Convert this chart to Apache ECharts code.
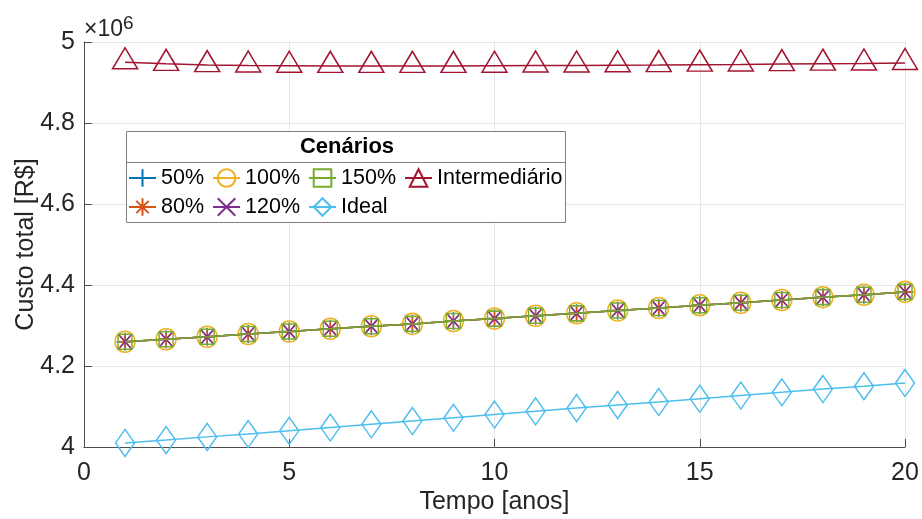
<!DOCTYPE html>
<html>
<head>
<meta charset="utf-8">
<script src="https://cdn.jsdelivr.net/npm/echarts@6/dist/echarts.min.js"></script>
<style>
html,body{margin:0;padding:0;background:#fff;}
#chart{width:922px;height:519px;}
</style>
</head>
<body>
<div id="chart"></div>
<script>
const anos = [1,2,3,4,5,6,7,8,9,10,11,12,13,14,15,16,17,18,19,20];
// Cenários 50%, 80%, 100%, 120%, 150% (curvas sobrepostas)
const custo50 = [4260000,4266000,4272000,4279000,4285000,4292000,4298000,4304000,4311000,4317000,4324000,4330000,4337000,4343000,4350000,4356000,4363000,4370000,4376000,4383000];
const custo80 = [4260000,4266000,4272000,4279000,4285000,4292000,4298000,4304000,4311000,4317000,4324000,4330000,4337000,4343000,4350000,4356000,4363000,4370000,4376000,4383000];
const custo100 = [4260000,4266000,4272000,4279000,4285000,4292000,4298000,4304000,4311000,4317000,4324000,4330000,4337000,4343000,4350000,4356000,4363000,4370000,4376000,4383000];
const custo120 = [4260000,4266000,4272000,4279000,4285000,4292000,4298000,4304000,4311000,4317000,4324000,4330000,4337000,4343000,4350000,4356000,4363000,4370000,4376000,4383000];
const custo150 = [4260000,4266000,4272000,4279000,4285000,4292000,4298000,4304000,4311000,4317000,4324000,4330000,4337000,4343000,4350000,4356000,4363000,4370000,4376000,4383000];
const custoIdeal = [4010000,4017000,4025000,4032000,4040000,4048000,4056000,4064000,4072000,4080000,4088000,4096000,4104000,4111000,4119000,4127000,4135000,4143000,4150000,4158000];
const custoIntermediario = [4950000,4946000,4943000,4942000,4941500,4941000,4941000,4941000,4941000,4941500,4942000,4942000,4942500,4943000,4944000,4944500,4945500,4946500,4947000,4948000];
const nomes = ['50%','80%','100%','120%','150%','Ideal','Intermediário'];
const xTicks = [0,5,10,15,20];
const yTicks = [4,4.2,4.4,4.6,4.8,5];

const axisFont = "'Liberation Sans',Arial,sans-serif";
const legFont = "'Liberation Sans',Arial,sans-serif";

const P = {
  plus: 'path://M0,5L10,5M5,0L5,10',
  star: 'path://M0,5L10,5M5,0L5,10M1.5,1.5L8.5,8.5M8.5,1.5L1.5,8.5',
  cross: 'path://M0,0L10,10M10,0L0,10'
};
const estilos = [
  {c:'#0072BD', s:P.plus, sz:[17,18], d:custo50},
  {c:'#D95319', s:P.star, sz:[15,16], d:custo80},
  {c:'#EDB120', s:'circle', sz:[20,21], d:custo100},
  {c:'#7E2F8E', s:P.cross, sz:[13,15], d:custo120},
  {c:'#77AC30', s:'rect', sz:[14,15], d:custo150},
  {c:'#4DBEEE', s:'diamond', sz:[19,27], d:custoIdeal},
  {c:'#A2142F', s:'triangle', sz:[25,21], d:custoIntermediario, off:[0,-4]}
];

const series = estilos.map((e,i)=>({
  name: nomes[i],
  type: 'line',
  data: anos.map((a,k)=>[a, e.d[k]]),
  color: e.c,
  symbol: e.s,
  symbolSize: e.sz,
  symbolOffset: e.off || [0,0],
  showAllSymbol: true,
  lineStyle: {color: e.c, width: 1.5},
  itemStyle: {color: 'rgba(0,0,0,0)', borderColor: e.c, borderWidth: 1.5},
  emphasis: {disabled: true},
  animation: false,
  z: 2 + i
}));

const legCommon = {
  orient: 'horizontal',
  padding: 0,
  itemWidth: 27,
  itemHeight: 22,
  itemGap: 8,
  selectedMode: false,
  z: 10,
  textStyle: {fontFamily: legFont, fontSize: 21.5, color: '#000', lineHeight: 22}
};

const chart = echarts.init(document.getElementById('chart'), null, {renderer: 'canvas'});
chart.setOption({
  backgroundColor: '#fff',
  animation: false,
  grid: {left: 84, right: 17, top: 42, bottom: 72, containLabel: false, outerBoundsMode: 'none'},
  xAxis: {
    type: 'value', min: xTicks[0], max: xTicks[xTicks.length-1], interval: 5,
    name: 'Tempo [anos]', nameLocation: 'middle', nameGap: 43, nameMoveOverlap: false,
    nameTextStyle: {fontFamily: axisFont, fontSize: 25, color: '#262626'},
    axisLine: {show: true, lineStyle: {color: '#4d4d4d', width: 1}},
    axisTick: {show: true, inside: true, length: 8, lineStyle: {color: '#4d4d4d'}},
    axisLabel: {fontFamily: axisFont, fontSize: 25, color: '#262626', margin: 14},
    splitLine: {show: true, lineStyle: {color: '#e6e6e6', width: 1}}
  },
  yAxis: {
    type: 'value', min: 4000000, max: 5000000, interval: 200000,
    name: 'Custo total [R$]', nameLocation: 'middle', nameGap: 45, nameRotate: 90, nameMoveOverlap: false,
    nameTextStyle: {fontFamily: axisFont, fontSize: 25, color: '#262626'},
    axisLine: {show: true, lineStyle: {color: '#4d4d4d', width: 1}},
    axisTick: {show: true, inside: true, length: 8, lineStyle: {color: '#4d4d4d'}},
    axisLabel: {fontFamily: axisFont, fontSize: 25, color: '#262626', margin: 9,
      formatter: v => String(Math.round(v/1e5)/10)},
    splitLine: {show: true, lineStyle: {color: '#e6e6e6', width: 1}}
  },
  legend: [
    Object.assign({}, legCommon, {left: 128, top: 167, data: ['50%','100%','150%','Intermediário']}),
    Object.assign({}, legCommon, {left: 128, top: 196, data: ['80%','120%','Ideal']})
  ],
  graphic: [
    {type: 'rect', z: 8, shape: {x: 126.5, y: 131.5, width: 439, height: 91},
     style: {fill: '#fff', stroke: '#808080', lineWidth: 1}},
    {type: 'line', z: 9, shape: {x1: 126.5, y1: 162.5, x2: 565.5, y2: 162.5},
     style: {stroke: '#808080', lineWidth: 1}},
    {type: 'text', z: 9, x: 347, y: 147, style: {text: 'Cenários', align: 'center', verticalAlign: 'middle',
      font: "bold 22px 'Liberation Sans', Arial, sans-serif", fill: '#000'}},
    {type: 'text', z: 9, x: 84, y: 30, style: {text: '×10{s|6}', verticalAlign: 'middle',
      font: "23px 'Liberation Sans', Arial, sans-serif", fill: '#262626',
      rich: {s: {fontSize: 19, fontFamily: "'Liberation Sans',Arial", verticalAlign: 'top', padding: [0,0,12,0], fill: '#262626'}}}}
  ],
  series: series
});
</script>
</body>
</html>
